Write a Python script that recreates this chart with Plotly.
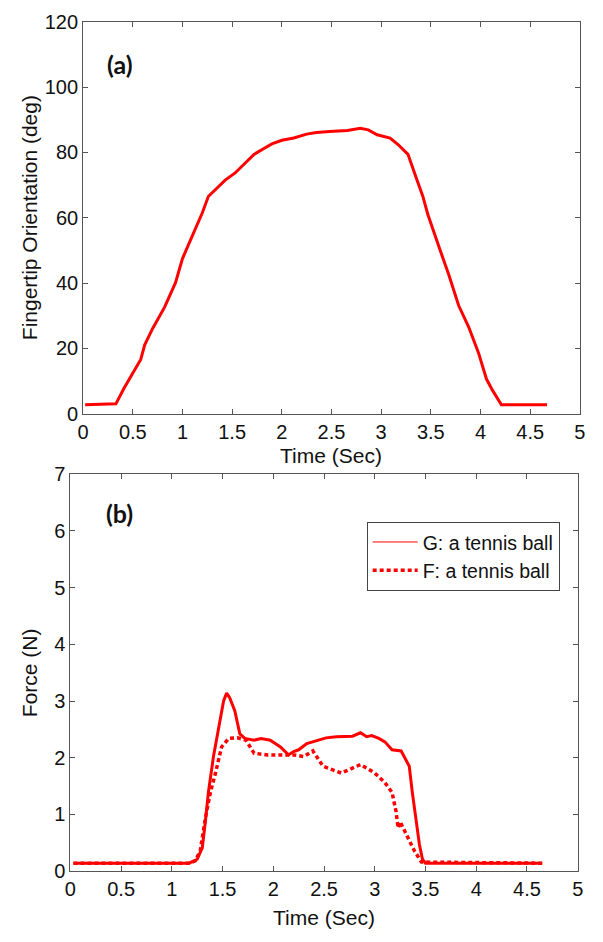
import plotly.graph_objects as go

# (a) fingertip orientation over time
t_orient = [0.02, 0.33, 0.41, 0.49, 0.58, 0.62, 0.70, 0.82, 0.93, 1.00, 1.10, 1.20, 1.26,
            1.33, 1.43, 1.53, 1.62, 1.72, 1.82, 1.90, 2.00, 2.12, 2.25, 2.35, 2.48, 2.58,
            2.66, 2.79, 2.87, 2.96, 3.09, 3.17, 3.27, 3.35, 3.42, 3.47, 3.53, 3.60, 3.68,
            3.78, 3.88, 3.98, 4.06, 4.12, 4.21, 4.67]
orient_deg = [2.7, 3.0, 7.7, 11.7, 16.6, 21.1, 26.1, 32.6, 40.1, 47.5, 54.5, 61.5, 66.5,
              68.5, 71.5, 73.7, 76.4, 79.4, 81.2, 82.6, 83.7, 84.4, 85.6, 86.1, 86.4, 86.6,
              86.7, 87.4, 86.9, 85.4, 84.4, 82.4, 79.4, 72.5, 66.5, 61.0, 55.5, 49.5, 42.6,
              33.1, 26.6, 18.6, 10.6, 7.2, 2.7, 2.7]

# (b) grip force G
t_g = [0.03, 1.17, 1.25, 1.30, 1.33, 1.36, 1.41, 1.46, 1.51, 1.54, 1.57, 1.62, 1.67, 1.72,
       1.81, 1.88, 1.97, 2.07, 2.15, 2.20, 2.25, 2.33, 2.43, 2.52, 2.62, 2.78, 2.86, 2.92,
       2.97, 3.04, 3.10, 3.17, 3.26, 3.34, 3.37, 3.41, 3.44, 3.47, 3.50, 4.65]
force_g = [0.14, 0.14, 0.21, 0.41, 0.87, 1.39, 2.02, 2.54, 3.00, 3.14, 3.06, 2.83, 2.42, 2.34,
           2.31, 2.34, 2.31, 2.19, 2.05, 2.11, 2.14, 2.25, 2.31, 2.35, 2.37, 2.38, 2.44, 2.37,
           2.39, 2.34, 2.28, 2.14, 2.12, 1.85, 1.39, 0.87, 0.47, 0.21, 0.14, 0.14]

# (b) fingertip force F
t_f = [0.03, 1.17, 1.23, 1.28, 1.33, 1.38, 1.43, 1.49, 1.56, 1.65, 1.73, 1.81, 1.94, 2.07,
       2.20, 2.30, 2.39, 2.49, 2.67, 2.86, 3.00, 3.10, 3.17, 3.21, 3.23, 3.25, 3.33, 3.39,
       3.46, 4.65]
force_f = [0.14, 0.14, 0.18, 0.36, 0.93, 1.39, 1.73, 2.19, 2.34, 2.35, 2.31, 2.08, 2.05, 2.05,
           2.05, 2.02, 2.12, 1.85, 1.73, 1.88, 1.73, 1.56, 1.39, 1.05, 0.76, 0.87, 0.59, 0.36,
           0.16, 0.14]

legend_names = ["G: a tennis ball", "F: a tennis ball"]

W, H = 603, 942
RED = "#ff0000"
AX = "#555555"
SANS = "Liberation Sans, Arial, sans-serif"
TICK_FONT = dict(family=SANS, size=20, color="#111111")
TITLE_FONT = dict(family=SANS, size=21, color="#111111")
DOT = "4px,3px"


def px_x(v):
    return v / W


def px_y(v):
    return 1 - v / H


fig = go.Figure()

fig.add_trace(go.Scatter(x=t_orient, y=orient_deg, mode="lines",
                         line=dict(color=RED, width=3), showlegend=False,
                         xaxis="x", yaxis="y"))
fig.add_trace(go.Scatter(x=t_g, y=force_g, mode="lines",
                         line=dict(color=RED, width=3), showlegend=False,
                         xaxis="x2", yaxis="y2"))
fig.add_trace(go.Scatter(x=t_f, y=force_f, mode="lines",
                         line=dict(color=RED, width=3.5, dash=DOT), showlegend=False,
                         xaxis="x2", yaxis="y2"))

# legend entries (thin solid sample for G, heavy dotted for F)
fig.add_trace(go.Scatter(x=[None], y=[None], mode="lines", name=legend_names[0],
                         line=dict(color=RED, width=1), xaxis="x2", yaxis="y2"))
fig.add_trace(go.Scatter(x=[None], y=[None], mode="lines", name=legend_names[1],
                         line=dict(color=RED, width=3.5, dash=DOT), xaxis="x2", yaxis="y2"))

common_axis = dict(showline=True, linecolor=AX, linewidth=1, mirror="ticks",
                   ticks="inside", ticklen=5, tickcolor=AX, tickwidth=1,
                   showgrid=False, zeroline=False, tickfont=TICK_FONT)

fig.update_layout(
    width=W, height=H,
    margin=dict(l=0, r=0, t=0, b=0),
    paper_bgcolor="white", plot_bgcolor="white",
    xaxis=dict(domain=[px_x(78.7), px_x(585.5)], range=[0, 5], dtick=0.5, tick0=0,
               anchor="y", **common_axis),
    yaxis=dict(domain=[px_y(412.3), px_y(11)], range=[0, 120], dtick=20, tick0=0,
               anchor="x", **common_axis),
    xaxis2=dict(domain=[px_x(65.7), px_x(583.3)], range=[0, 5], dtick=0.5, tick0=0,
                anchor="y2", **common_axis),
    yaxis2=dict(domain=[px_y(880.7), px_y(474.3)], range=[0, 7], dtick=1, tick0=0,
                anchor="x2", **common_axis),
    legend=dict(x=px_x(368), y=px_y(523), xanchor="left", yanchor="top",
                bgcolor="white", bordercolor="#444444", borderwidth=1,
                font=dict(family=SANS, size=19.5, color="#111111"),
                itemwidth=45),
    showlegend=True,
)

annotations = [
    dict(text="(a)", x=px_x(116), y=px_y(54)),
    dict(text="(b)", x=px_x(116), y=px_y(514)),
]
for a in annotations:
    a.update(xref="paper", yref="paper", showarrow=False, xanchor="center", yanchor="middle",
             font=dict(family="Lato, sans-serif", size=25, color="#111111", weight="bold"))

axis_titles = [
    dict(text="Time (Sec)", x=px_x(332), y=px_y(455), textangle=0),
    dict(text="Time (Sec)", x=px_x(324.5), y=px_y(928), textangle=0),
    dict(text="Fingertip Orientation (deg)", x=px_x(24), y=px_y(211.6), textangle=-90),
    dict(text="Force (N)", x=px_x(24), y=px_y(677.5), textangle=-90),
]
for a in axis_titles:
    a.update(xref="paper", yref="paper", showarrow=False, xanchor="center", yanchor="middle",
             font=TITLE_FONT)

fig.update_layout(annotations=annotations + axis_titles)

fig.write_html("out.html")
